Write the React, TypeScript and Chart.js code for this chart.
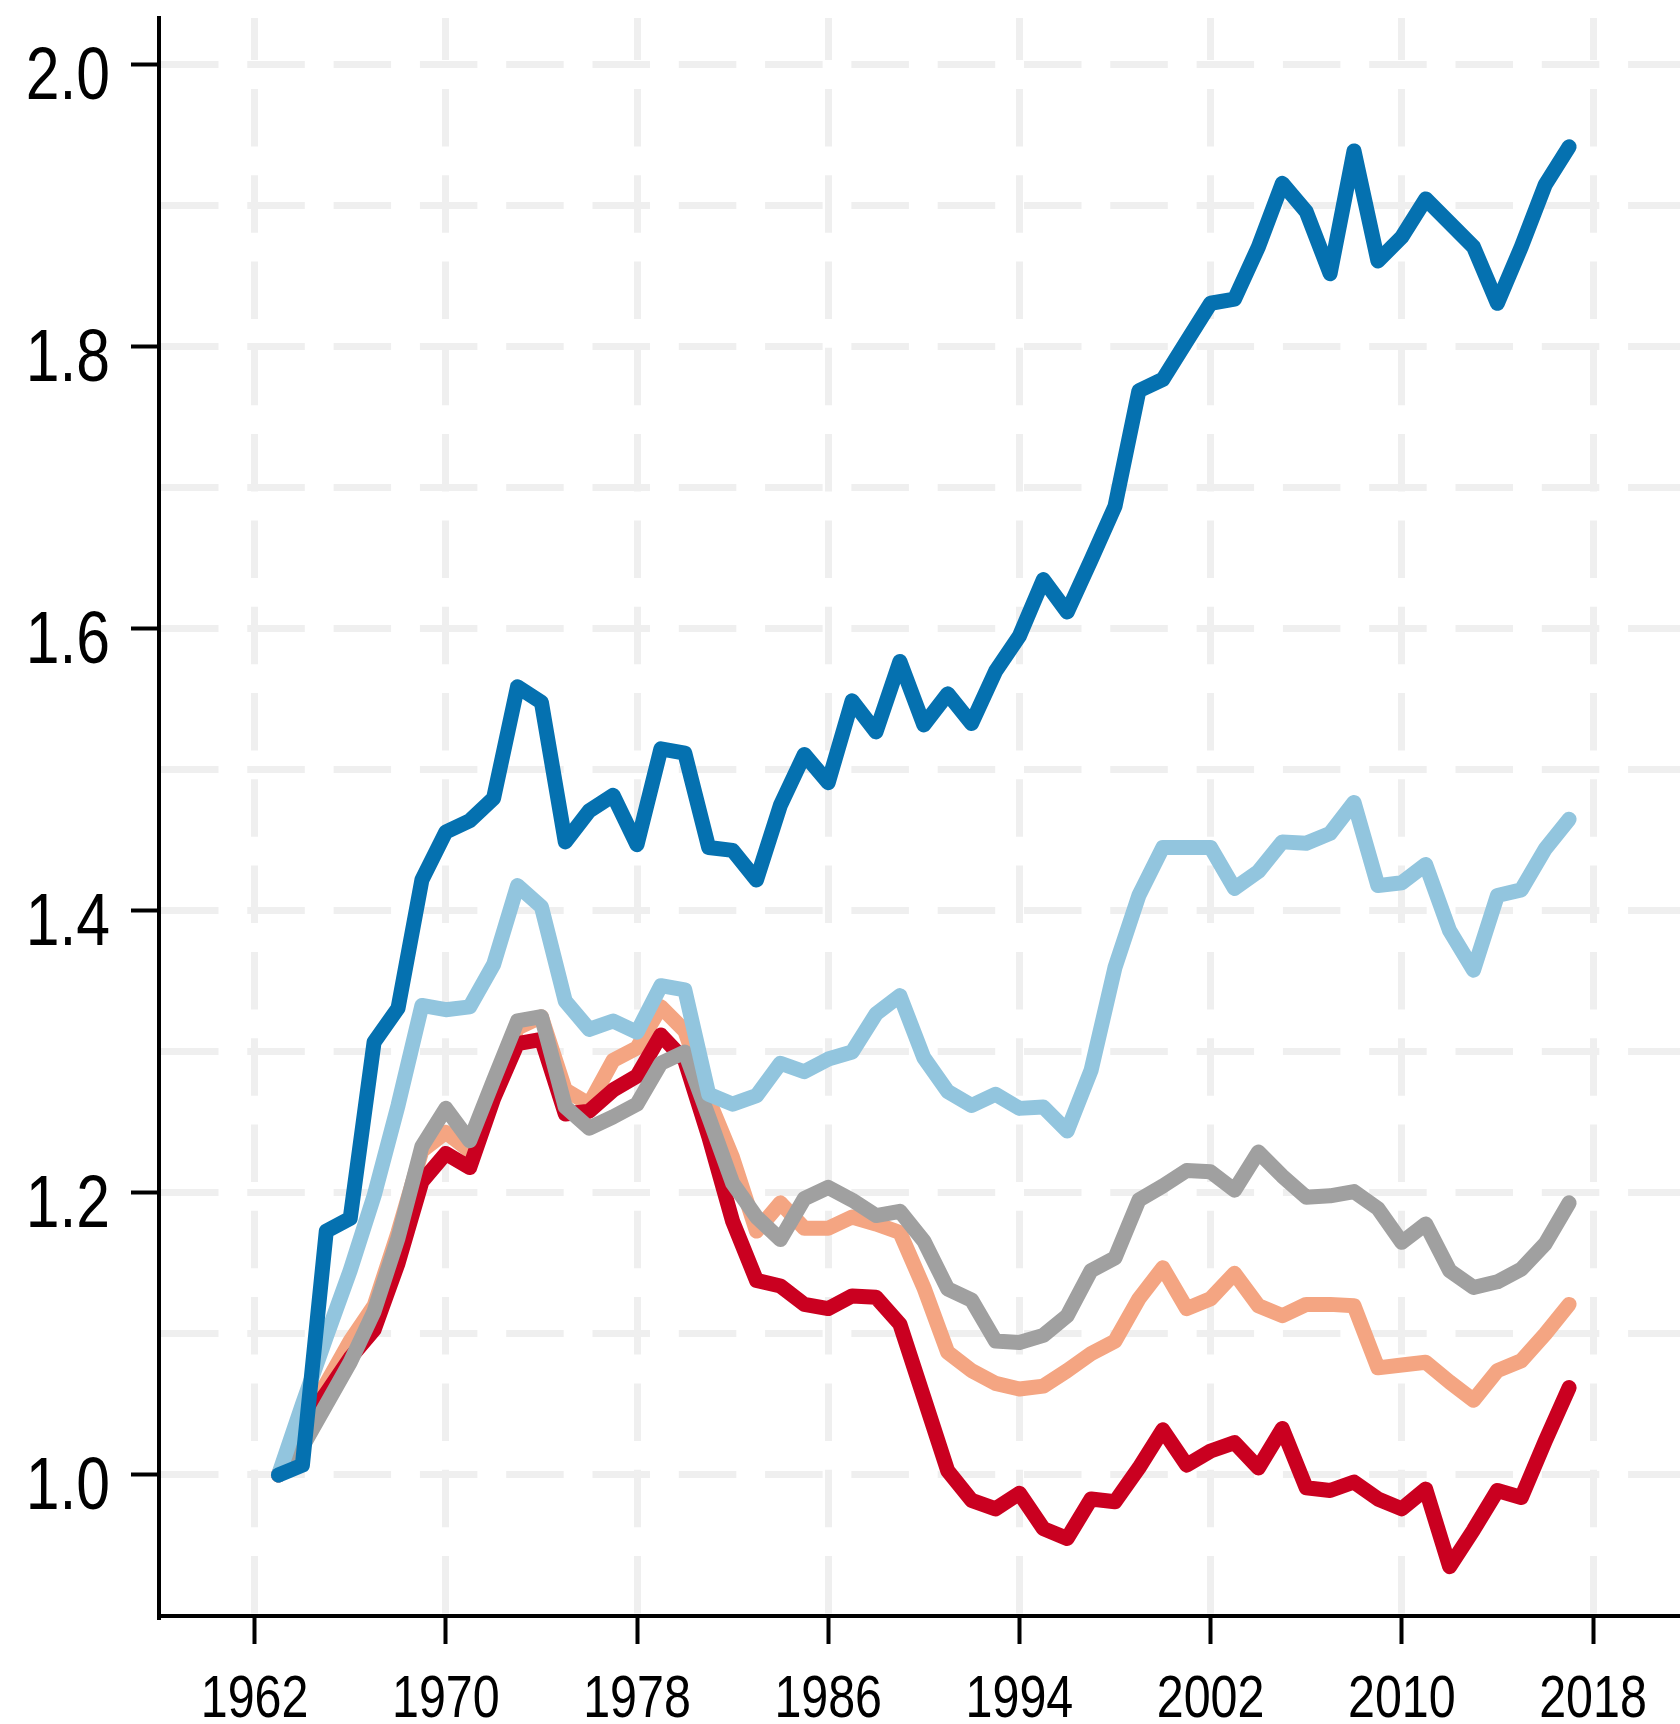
import React, { useEffect, useRef } from 'react';
import { Chart, registerables } from 'chart.js';

Chart.register(...registerables);

// ---- data ----
const years = [
  1963, 1964, 1965, 1966, 1967, 1968, 1969, 1970, 1971, 1972,
  1973, 1974, 1975, 1976, 1977, 1978, 1979, 1980, 1981, 1982,
  1983, 1984, 1985, 1986, 1987, 1988, 1989, 1990, 1991, 1992,
  1993, 1994, 1995, 1996, 1997, 1998, 1999, 2000, 2001, 2002,
  2003, 2004, 2005, 2006, 2007, 2008, 2009, 2010, 2011, 2012,
  2013, 2014, 2015, 2016, 2017,
];

const darkBlue = [
  1.000, 1.007, 1.173, 1.182, 1.307, 1.331, 1.422, 1.456, 1.464, 1.480,
  1.559, 1.548, 1.449, 1.471, 1.482, 1.447, 1.515, 1.512, 1.445, 1.443,
  1.422, 1.475, 1.511, 1.491, 1.549, 1.527, 1.577, 1.532, 1.554, 1.533,
  1.570, 1.595, 1.635, 1.612, 1.649, 1.687, 1.769, 1.777, 1.804, 1.831,
  1.834, 1.871, 1.916, 1.896, 1.852, 1.939, 1.861, 1.878, 1.905, 1.888,
  1.871, 1.831, 1.871, 1.915, 1.942,
];

const lightBlue = [
  1.000, 1.050, 1.098, 1.145, 1.198, 1.262, 1.333, 1.330, 1.332, 1.362,
  1.418, 1.403, 1.336, 1.316, 1.322, 1.314, 1.347, 1.344, 1.270, 1.263,
  1.269, 1.292, 1.286, 1.295, 1.300, 1.327, 1.340, 1.296, 1.272, 1.262,
  1.270, 1.260, 1.261, 1.244, 1.287, 1.360, 1.411, 1.445, 1.445, 1.445,
  1.416, 1.428, 1.449, 1.448, 1.455, 1.477, 1.418, 1.420, 1.433, 1.386,
  1.358, 1.411, 1.415, 1.444, 1.465,
];

const gray = [
  1.000, 1.020, 1.050, 1.080, 1.116, 1.168, 1.233, 1.260, 1.237, 1.280,
  1.322, 1.325, 1.261, 1.246, 1.254, 1.263, 1.292, 1.300, 1.254, 1.207,
  1.183, 1.167, 1.196, 1.204, 1.195, 1.184, 1.187, 1.166, 1.132, 1.124,
  1.095, 1.094, 1.099, 1.113, 1.145, 1.154, 1.195, 1.205, 1.216, 1.215,
  1.202, 1.229, 1.212, 1.197, 1.198, 1.201, 1.189, 1.165, 1.178, 1.145,
  1.133, 1.137, 1.146, 1.164, 1.193,
];

const salmon = [
  1.000, 1.040, 1.065, 1.095, 1.120, 1.172, 1.230, 1.243, 1.230, 1.276,
  1.317, 1.325, 1.273, 1.263, 1.294, 1.303, 1.332, 1.315, 1.266, 1.225,
  1.173, 1.193, 1.175, 1.175, 1.183, 1.178, 1.172, 1.133, 1.087, 1.074,
  1.065, 1.061, 1.063, 1.074, 1.086, 1.095, 1.125, 1.147, 1.118, 1.125,
  1.143, 1.120, 1.113, 1.121, 1.121, 1.120, 1.076, 1.078, 1.080, 1.066,
  1.053, 1.074, 1.081, 1.100, 1.121,
];

const red = [
  1.000, 1.035, 1.058, 1.083, 1.103, 1.150, 1.208, 1.228, 1.218, 1.267,
  1.306, 1.309, 1.256, 1.258, 1.273, 1.283, 1.312, 1.294, 1.240, 1.180,
  1.138, 1.134, 1.121, 1.118, 1.127, 1.126, 1.107, 1.055, 1.003, 0.982,
  0.976, 0.987, 0.962, 0.955, 0.983, 0.981, 1.005, 1.032, 1.007, 1.017,
  1.023, 1.005, 1.033, 0.991, 0.989, 0.995, 0.983, 0.976, 0.990, 0.935,
  0.961, 0.989, 0.984, 1.024, 1.062,
];

const xTickValues = [1962, 1970, 1978, 1986, 1994, 2002, 2010, 2018];
const yGridValues = [1.0, 1.1, 1.2, 1.3, 1.4, 1.5, 1.6, 1.7, 1.8, 1.9, 2.0];
const yLabelValues = [1.0, 1.2, 1.4, 1.6, 1.8, 2.0];

const LABEL_FONT = "'Liberation Sans', Arial, sans-serif";
const GRID = '#efefef';

const isYLabel = (v: number) => yLabelValues.some((l) => Math.abs(l - v) < 1e-6);

// Draws the tick labels in a narrow (horizontally condensed) sans face,
// positioned through the chart's own scales.
const narrowLabels = {
  id: 'narrowLabels',
  afterDraw(chart: any) {
    const { ctx, scales } = chart;
    const xs = scales.x;
    const ys = scales.y;
    ctx.save();
    ctx.fillStyle = '#000';

    // y axis labels
    ctx.font = `74px ${LABEL_FONT}`;
    ctx.textAlign = 'right';
    ctx.textBaseline = 'alphabetic';
    const yRight = ys.right - 28 - 21;
    yLabelValues.forEach((v) => {
      const py = ys.getPixelForValue(v);
      ctx.save();
      ctx.translate(yRight, py + 34);
      ctx.scale(0.82, 1);
      ctx.fillText(v.toFixed(1), 0, 0);
      ctx.restore();
    });

    // x axis labels
    ctx.font = `59px ${LABEL_FONT}`;
    ctx.textAlign = 'center';
    const baseY = xs.top + 101;
    xTickValues.forEach((v) => {
      const px = xs.getPixelForValue(v);
      ctx.save();
      ctx.translate(px, baseY);
      ctx.scale(0.82, 1);
      ctx.fillText(String(v), 0, 0);
      ctx.restore();
    });
    ctx.restore();
  },
};

export default function App() {
  const ref = useRef<HTMLCanvasElement>(null);

  useEffect(() => {
    const canvas = ref.current;
    if (!canvas) return;
    const mk = (label: string, values: number[], color: string) => ({
      label,
      data: years.map((yr, i) => ({ x: yr, y: values[i] })),
      borderColor: color,
      backgroundColor: color,
      borderWidth: 15,
      pointRadius: 0,
      pointHoverRadius: 0,
      tension: 0,
      fill: false,
      borderCapStyle: 'round',
      borderJoinStyle: 'round',
    });

    const chart = new Chart(canvas, {
      type: 'line',
      data: {
        datasets: [
          mk('Dark blue', darkBlue, '#0571b0'),
          mk('Light blue', lightBlue, '#92c5de'),
          mk('Gray', gray, '#a0a0a0'),
          mk('Red', red, '#ca0020'),
          mk('Salmon', salmon, '#f4a582'),
        ] as any,
      },
      options: {
        animation: false,
        responsive: false,
        maintainAspectRatio: false,
        devicePixelRatio: 1,
        layout: { padding: { top: 18, left: 0, right: 0, bottom: 0 } },
        plugins: { legend: { display: false }, tooltip: { enabled: false } },
        events: [],
        scales: {
          x: {
            type: 'linear',
            min: 1958,
            max: 2021.64,
            afterBuildTicks: (s: any) => {
              s.ticks = xTickValues.map((v) => ({ value: v }));
            },
            afterFit: (s: any) => {
              s.height = 108;
              s.paddingLeft = 0;
              s.paddingRight = 0;
              s.paddingTop = 0;
              s.paddingBottom = 0;
            },
            ticks: { display: false, autoSkip: false, maxRotation: 0 },
            grid: {
              color: GRID,
              lineWidth: 7,
              drawTicks: true,
              tickLength: 28,
              tickWidth: 4,
              tickColor: '#000',
            },
            border: { display: true, color: '#000', width: 4, dash: [57.5, 28.8], dashOffset: 15.4 },
          } as any,
          y: {
            type: 'linear',
            min: 0.9,
            max: 2.0333,
            afterBuildTicks: (s: any) => {
              s.ticks = yGridValues.map((v) => ({ value: v }));
            },
            afterFit: (s: any) => {
              s.width = 159;
              s.paddingLeft = 0;
              s.paddingRight = 0;
              s.paddingTop = 0;
              s.paddingBottom = 0;
            },
            ticks: { display: false, autoSkip: false },
            grid: {
              color: GRID,
              lineWidth: 7,
              drawTicks: true,
              tickLength: 28,
              tickWidth: 4,
              tickColor: (c: any) => (c.tick && isYLabel(c.tick.value) ? '#000' : 'rgba(0,0,0,0)'),
            },
            border: { display: true, color: '#000', width: 4, dash: [57.5, 28.8], dashOffset: 0 },
          } as any,
        },
      },
      plugins: [narrowLabels as any],
    });
    return () => chart.destroy();
  }, []);

  return (
    <div style={{ position: 'absolute', left: 0, top: 0, width: 1680, height: 1724, background: '#fff' }}>
      <canvas ref={ref} width={1680} height={1724} style={{ display: 'block', width: 1680, height: 1724 }} />
    </div>
  );
}
